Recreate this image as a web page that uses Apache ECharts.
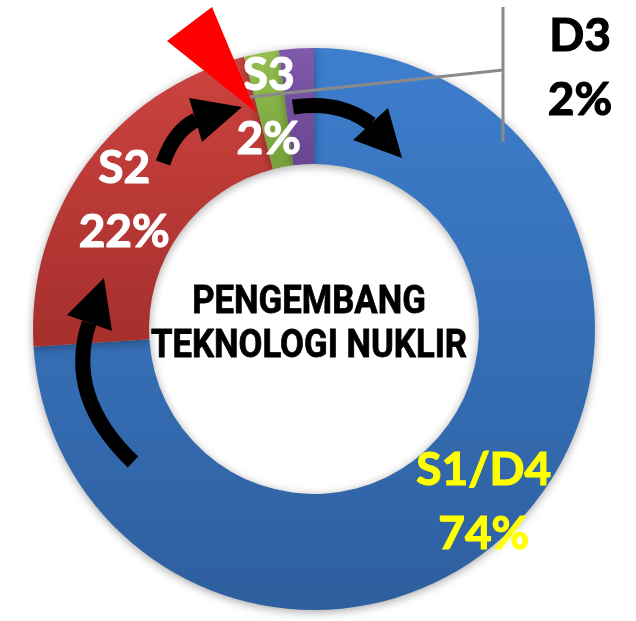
<!DOCTYPE html>
<html>
<head>
<meta charset="utf-8">
<script src="https://cdn.jsdelivr.net/npm/echarts@6/dist/echarts.min.js"></script>
<style>
  html, body { margin: 0; padding: 0; background: #fff; }
  #main { width: 636px; height: 621px; }
</style>
</head>
<body>
<div id="main"></div>
<script>
// data
var categories = ['S1/D4', 'S2', 'S3', 'D3'];
var values = [74, 22, 2, 2];
var topColors = ['#3d7ecd', '#cc433f', '#94bf50', '#8059ab'];
var bottomColors = ['#2e5f9f', '#a52f2c', '#75a03a', '#684690'];
var labelColors = ['#ffff00', '#ffffff', '#ffffff', '#000000'];

var myChart = echarts.init(document.getElementById('main'), null, { renderer: 'canvas' });

var seriesData = categories.map(function (name, i) {
    return {
        name: name,
        value: values[i],
        itemStyle: {
            color: new echarts.graphic.LinearGradient(0, 0, 0, 1, [
                { offset: 0, color: topColors[i] },
                { offset: 1, color: bottomColors[i] }
            ])
        },
        label: {
            color: labelColors[i],
            textBorderColor: labelColors[i],
            textBorderWidth: 1.2
        }
    };
});

// nudges for the inside labels
var labelShift = [[5, 18], [-7, 4], [-3, 0]];

// arrows, pointer and leader line drawn over the ring
var arrowStyle = { stroke: '#000', lineWidth: 15, fill: null };
var graphics = [
    { type: 'polyline', z: 5, shape: { points: [[250, 97], [503, 70]] }, style: { stroke: '#8a8a8a', lineWidth: 3 } },
    { type: 'polyline', z: 5, shape: { points: [[503, 7], [503, 142]] }, style: { stroke: '#8a8a8a', lineWidth: 3 } },
    { type: 'bezierCurve', z: 10, shape: { x1: 133, y1: 462, cpx1: 65, cpy1: 397, x2: 89, y2: 323 }, style: arrowStyle },
    { type: 'polygon', z: 10, shape: { points: [[104, 278], [67, 315], [112, 331]] }, style: { fill: '#000' } },
    { type: 'bezierCurve', z: 10, shape: { x1: 163, y1: 163, cpx1: 174, cpy1: 131, x2: 196, y2: 120 }, style: arrowStyle },
    { type: 'polygon', z: 10, shape: { points: [[242, 107], [189, 98], [202, 142]] }, style: { fill: '#000' } },
    { type: 'bezierCurve', z: 10, shape: { x1: 293, y1: 107, cpx1: 340, cpy1: 100, x2: 371, y2: 124 }, style: arrowStyle },
    { type: 'polygon', z: 10, shape: { points: [[388, 108], [353, 140], [402, 158]] }, style: { fill: '#000' } },
    { type: 'polygon', z: 11, shape: { points: [[212, 7], [167, 41], [256, 112]] }, style: { fill: '#ff0000' } },
    {
        type: 'text', z: 10, x: 309, y: 325, scaleX: 0.89,
        style: {
            text: 'PENGEMBANG\nTEKNOLOGI NUKLIR',
            font: 'bold 39px Roboto',
            fill: '#000',
            stroke: '#000',
            lineWidth: 0.8,
            textAlign: 'center',
            textVerticalAlign: 'middle',
            lineHeight: 44
        }
    }
];

var option = {
    backgroundColor: '#fff',
    animation: false,
    series: [{
        type: 'pie',
        center: [314, 329],
        radius: [165, 281],
        startAngle: 90,
        clockwise: true,
        avoidLabelOverlap: false,
        itemStyle: {
            shadowBlur: 10,
            shadowColor: 'rgba(0,0,0,0.35)',
            shadowOffsetY: 2
        },
        label: {
            show: true,
            position: 'inside',
            formatter: '{b}\n{d}%',
            fontFamily: 'Lato',
            fontWeight: 'bold',
            fontSize: 46,
            lineHeight: 64
        },
        labelLine: { show: false },
        labelLayout: function (params) {
            var i = params.dataIndex;
            if (i === 3) {
                return { x: 580, y: 68, align: 'center', verticalAlign: 'middle' };
            }
            return { dx: labelShift[i][0], dy: labelShift[i][1] };
        },
        emphasis: { disabled: true },
        data: seriesData
    }],
    graphic: graphics
};

myChart.setOption(option);
</script>
</body>
</html>
